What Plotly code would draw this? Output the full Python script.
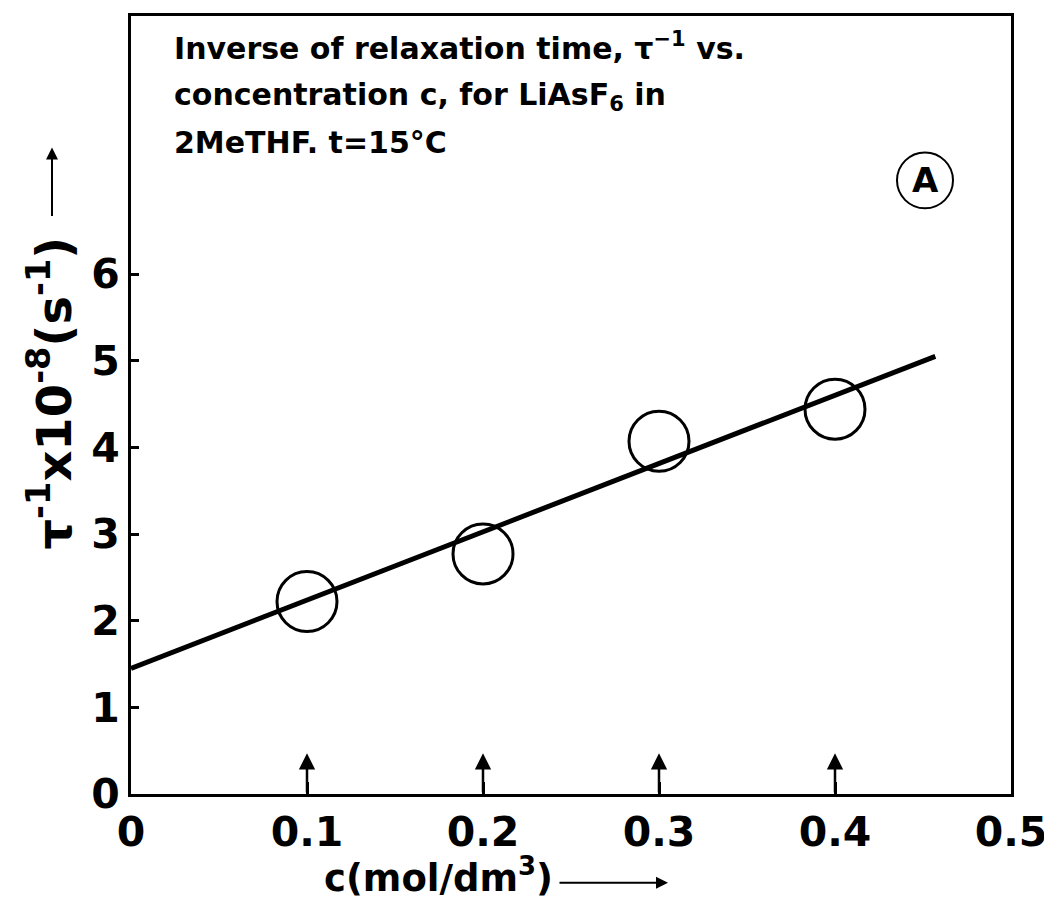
import plotly.graph_objects as go

# Data
conc = [0.1, 0.2, 0.3, 0.4]                 # c (mol/dm^3)
inv_tau = [2.22, 2.77, 4.07, 4.44]          # tau^-1 x 10^-8 (s^-1)
fit_c = [0.0, 0.457]
fit_y = [1.45, 5.05]
x_ticks = [0, 0.1, 0.2, 0.3, 0.4, 0.5]
x_ticklabels = ["0", "0.1", "0.2", "0.3", "0.4", "0.5"]
y_ticks = [0, 1, 2, 3, 4, 5, 6]
y_ticklabels = ["0", "1", "2", "3", "4", "5", "6"]

FONT = "DejaVu Sans"

# plot-area geometry in page pixels (reference): left 131, right 1011, top 13, bottom 794
PX_L, PX_B, PW, PH = 131, 794, 880, 781
BODY = 8  # default page body margin


def px(x):
    return (x - PX_L) / PW


def py(y):
    return (PX_B - y) / PH


fig = go.Figure()
fig.add_trace(go.Scatter(x=fit_c, y=fit_y, mode="lines",
                         line=dict(color="black", width=5), showlegend=False))
fig.add_trace(go.Scatter(x=conc, y=inv_tau, mode="markers",
                         marker=dict(symbol="circle-open", size=60,
                                     line=dict(color="black", width=3), color="black"),
                         showlegend=False))

# small arrows marking the concentrations
for c in conc:
    fig.add_annotation(x=c, y=0.47, xref="x", yref="y", ax=c, ay=0.0,
                       axref="x", ayref="y", text="", showarrow=True,
                       arrowhead=2, arrowsize=1.3, arrowwidth=2.5, arrowcolor="black")

# descriptive text
lines = ["Inverse of relaxation time, τ<sup>−1</sup> vs.",
         "concentration c, for LiAsF<sub>6</sub> in",
         "2MeTHF. t=15°C"]
line_y = [44, 94, 140]
for txt, yy in zip(lines, line_y):
    fig.add_annotation(x=px(172), y=py(yy), xref="paper", yref="paper",
                       text=txt, showarrow=False, xanchor="left", yanchor="middle",
                       font=dict(family=FONT, size=30, color="black", weight="bold"))

# circled A
fig.add_shape(type="circle", xref="paper", yref="paper",
              x0=px(897), x1=px(953), y0=py(206), y1=py(150),
              line=dict(color="black", width=2))
fig.add_annotation(x=px(925), y=py(178), xref="paper", yref="paper",
                   text="A", showarrow=False, xanchor="center", yanchor="middle",
                   font=dict(family=FONT, size=34, color="black", weight="bold"))

# y-axis title with arrow
fig.add_annotation(x=px(50), y=py(392), xref="paper", yref="paper",
                   text="τ<sup>-1</sup>x10<sup>-8</sup>(s<sup>-1</sup>)", textangle=-90,
                   showarrow=False, xanchor="center", yanchor="middle",
                   font=dict(family=FONT, size=48, color="black", weight="bold"))
fig.add_annotation(x=px(52), y=py(145), xref="paper", yref="paper",
                   text="", showarrow=True, ax=0, ay=70, arrowhead=2, arrowsize=1.2,
                   arrowwidth=2, arrowcolor="black")

# x-axis title with arrow
fig.add_annotation(x=px(438), y=py(876), xref="paper", yref="paper",
                   text="c(mol/dm<sup>3</sup>)", showarrow=False,
                   xanchor="center", yanchor="middle",
                   font=dict(family=FONT, size=37, color="black", weight="bold"))
fig.add_annotation(x=px(668), y=py(883), xref="paper", yref="paper",
                   text="", showarrow=True, ax=-110, ay=0, arrowhead=2, arrowsize=1.2,
                   arrowwidth=2, arrowcolor="black")

fig.update_xaxes(range=[0, 0.5], tickvals=x_ticks, ticktext=x_ticklabels,
                 ticks="inside", ticklen=12, tickwidth=2.5, tickcolor="black",
                 showline=True, linecolor="black", linewidth=3, mirror=True,
                 showgrid=False, zeroline=False,
                 tickfont=dict(family=FONT, size=41, color="black", weight="bold"))
fig.update_yaxes(range=[0, 8.977], tickvals=y_ticks, ticktext=y_ticklabels,
                 ticks="inside", ticklen=8, tickwidth=2.5, tickcolor="black",
                 showline=True, linecolor="black", linewidth=3, mirror=True,
                 showgrid=False, zeroline=False,
                 tickfont=dict(family=FONT, size=41, color="black", weight="bold"))

# page body has an 8px default margin: shrink the figure accordingly
W, H = 1052 - BODY, 922 - BODY
ml = PX_L - BODY
mt = 13 - BODY
mr = W - ml - PW
mb = H - mt - PH
fig.update_layout(width=W, height=H, plot_bgcolor="white", paper_bgcolor="white",
                  margin=dict(l=ml, r=mr, t=mt, b=mb), showlegend=False)

fig.write_html("out.html")
